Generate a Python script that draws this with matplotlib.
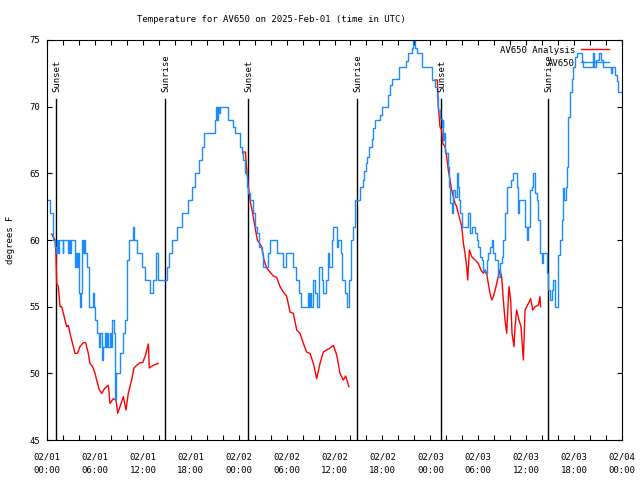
import matplotlib
matplotlib.use('Agg')
import matplotlib.pyplot as plt

# observed temperature (blue), hours after 2025-02-01 00:00 UTC
obs_hours = [0.0, 0.38, 0.79, 1.0, 1.13, 1.25, 1.4, 1.55, 1.95, 2.05, 2.6, 2.7, 2.85, 2.95,
             3.51, 3.6, 3.75, 3.9, 4.05, 4.15, 4.25, 4.4, 4.5, 4.6, 4.75, 4.97, 5.3, 5.8, 5.9,
             6.01, 6.3, 6.5, 6.64, 6.85, 7.0, 7.2, 7.35, 7.5, 7.7, 7.85, 8.0, 8.2, 8.4, 8.51,
             8.6, 9.14, 9.5, 9.77, 10.06, 10.31, 10.73, 10.85, 11.23, 11.85, 12.27, 12.9,
             13.32, 13.7, 13.85, 13.95, 14.98, 15.3, 15.6, 16.3, 16.9, 17.6, 18.1, 18.5, 19.0,
             19.4, 19.7, 21.0, 21.1, 21.25, 21.4, 21.55, 21.7, 22.7, 23.3, 23.55, 24.17, 24.4,
             24.6, 24.8, 25.0, 25.2, 25.42, 25.75, 26.04, 26.25, 26.58, 26.88, 27.09, 27.7,
             27.92, 28.76, 29.59, 29.88, 30.84, 31.2, 31.5, 31.76, 32.72, 32.8, 32.9, 33.0,
             33.35, 33.56, 33.77, 34.1, 34.4, 34.6, 34.94, 35.2, 35.35, 35.65, 35.86, 36.27,
             36.48, 36.8, 37.0, 37.3, 37.6, 37.86, 38.07, 38.36, 38.57, 39.19, 39.53, 39.7,
             39.94, 40.1, 40.36, 40.65, 40.86, 41.07, 41.7, 41.9, 42.74, 42.95, 43.16, 44.1,
             44.95, 45.24, 45.66, 45.87, 46.07, 46.28, 46.9, 48.2, 48.58, 48.79, 49.0, 49.21,
             49.42, 49.55, 49.63, 49.75, 49.84, 50.05, 50.25, 50.4, 50.5, 50.67, 50.88, 51.09,
             51.3, 51.45, 51.55, 51.72, 51.93, 52.76, 52.97, 53.2, 53.6, 53.8, 54.0, 54.2,
             54.43, 54.64, 54.85, 55.05, 55.26, 55.47, 55.68, 55.9, 56.1, 56.5, 56.72, 56.93,
             57.14, 57.35, 57.56, 58.06, 58.4, 58.81, 58.94, 59.06, 59.65, 59.86, 60.07, 60.28,
             60.48, 60.69, 60.9, 61.1, 61.3, 61.52, 61.73, 61.94, 62.15, 62.57, 62.78, 62.98,
             63.19, 63.4, 63.61, 64.03, 64.24, 64.44, 64.65, 64.78, 64.99, 65.15, 65.28, 65.49,
             65.7, 65.9, 66.1, 66.32, 66.95, 67.16, 68.41, 68.5, 68.8, 69.1, 69.35, 69.6, 70.6,
             70.7, 71.12, 71.33, 71.54, 72.0]
obs_temps = [63, 62, 60, 59.5, 59, 60, 59, 60, 59, 60, 59, 60, 59, 60,
             58, 59, 58, 59, 56, 55, 56, 60, 59, 60, 59, 58, 55, 56, 55,
             54, 53, 52, 53, 51, 52, 53, 52, 53, 52, 53, 52, 54, 53, 48,
             50, 51.5, 53, 54, 58.5, 60, 61, 60, 59, 58, 57, 56,
             57, 59, 58.5, 57, 58, 59, 60, 61, 62, 63, 64, 65, 66,
             67, 68, 69, 70, 69, 70, 69.5, 70, 69, 68.5, 68, 67, 66.5,
             66, 65, 64, 63.5, 63, 62, 61, 60.5, 59.5, 59, 58, 59,
             60, 59, 58, 59, 58, 57, 56, 55, 56, 55, 56, 55,
             57, 56, 55, 58, 57, 56, 57, 59, 58, 60, 61, 59.5,
             60, 59, 57, 56, 55, 57, 60, 61, 63, 64, 64.5, 65.2,
             65.75, 66.25, 67, 67.6, 68.4, 69, 69.4, 70, 70.9, 71.6, 72.1, 73,
             73.4, 74, 74.4, 75, 74.4, 74, 73, 72, 71.5, 70.75, 69.75, 69.1,
             68.5, 69, 67.5, 68, 66.5, 66.5, 65.5, 64, 62.75, 62, 63.75, 63.25,
             65, 64, 63, 62, 61, 62, 60.5, 61, 60.5, 60, 59.5, 58.75,
             58.5, 57.75, 57.5, 58.5, 59, 59.5, 60, 59, 58.5, 57.25, 58.25, 58.75,
             60, 62, 64, 64.5, 65, 64, 62, 63, 63, 61, 60, 61,
             63.75, 64, 65, 63.5, 63, 61.5, 59, 58.25, 59, 57.5, 56.25, 55.5,
             56.25, 57, 55, 58.9, 60, 61.5, 63.9, 63, 64, 65.5, 69.25, 71.1,
             72.1, 73, 73.75, 74, 73.4, 73, 74, 73, 73.5, 74, 73.5, 73, 72.5,
             73, 72.4, 71.9, 71.1, 71]

# analysis temperature (red), three nightly runs
ana1_hours = [0.58, 1.0, 1.13, 1.21, 1.42, 1.63, 1.84, 2.05, 2.25, 2.46, 2.67, 2.88, 3.09,
              3.3, 3.5, 3.8, 4.13, 4.55, 4.84, 5.17, 5.38, 5.72, 6.01, 6.22, 6.55, 6.85,
              7.26, 7.68, 7.89, 8.31, 8.64, 8.85, 9.14, 9.56, 9.89, 10.18, 10.6, 10.89,
              11.23, 11.65, 11.98, 12.27, 12.69, 12.81, 13.31, 13.94]
ana1_temps = [60.45, 60, 58.9, 56.75, 56.5, 55, 55, 54.5, 54, 53.5, 53.6, 53, 52.5,
              52, 51.5, 51.5, 52, 52.3, 52.3, 51.5, 50.75, 50.5, 50, 49.5, 48.75, 48.5,
              48.9, 49.1, 47.75, 48.1, 48, 47, 47.5, 48.25, 47.25, 48.5, 49.5, 50.4,
              50.6, 50.8, 50.8, 51.25, 52.2, 50.4, 50.6, 50.75]

ana2_hours = [24.5, 24.85, 24.95, 25.21, 25.42, 25.75, 26.04, 26.34, 26.67, 26.88, 27.17,
              27.5, 27.92, 28.34, 28.76, 29.18, 29.59, 30.0, 30.43, 30.84, 31.27, 31.68,
              32.1, 32.5, 32.93, 33.35, 33.77, 34.19, 34.6, 35.02, 35.44, 35.86, 36.27,
              36.69, 37.1, 37.4, 37.8]
ana2_temps = [66.6, 66.6, 65.7, 64, 63, 62, 61, 60, 59.7, 59.5, 58.5,
              57.9, 57.6, 57.3, 57.2, 56.5, 56.1, 55.8, 54.6, 54.5, 53.25, 53,
              52.25, 51.6, 51.5, 50.75, 49.6, 50.75, 51.6, 51.75, 51.9, 52.1, 51.4,
              50, 49.5, 49.8, 49.0]

ana3_hours = [48.58, 48.88, 49.0, 49.21, 49.42, 49.55, 49.84, 50.05, 50.25, 50.46, 50.67,
              50.88, 51.09, 51.3, 51.5, 51.72, 51.93, 52.14, 52.34, 52.55, 52.68, 52.89,
              53.18, 53.6, 54.0, 54.34, 54.64, 54.85, 55.05, 55.26, 55.47, 55.68, 55.9,
              56.22, 56.5, 56.72, 56.93, 57.14, 57.35, 57.56, 57.68, 57.85, 58.06, 58.23,
              58.48, 58.6, 58.81, 59.1, 59.35, 59.65, 59.86, 60.07, 60.28, 60.57, 60.82,
              61.1, 61.52, 61.73, 61.81]
ana3_temps = [72, 72, 70, 68.5, 68.25, 67.25, 67, 66.25, 65.25, 64.5, 63.75,
              63.25, 62.75, 62.5, 62, 61.5, 61, 59.75, 59, 58, 57, 59.25,
              58.75, 58.5, 58.25, 57.75, 57.5, 57.75, 57.5, 56.75, 56, 55.5, 55.75,
              56.5, 57.25, 57.75, 57.25, 55.5, 54, 53, 54.5, 56.5, 55.5, 53,
              52, 53.5, 54.75, 54, 53.5, 51, 54.75, 55, 55.25, 55.6, 54.75,
              55, 55.1, 55.75, 55]

# sunrise / sunset times (hours)
sun_hours = [1.13, 14.8, 25.2, 38.85, 49.3, 62.78]
sun_labels = ['Sunset', 'Sunrise', 'Sunset', 'Sunrise', 'Sunset', 'Sunrise']

tick_hours = list(range(0, 73, 6))
tick_labels = ['02/01\n00:00', '02/01\n06:00', '02/01\n12:00', '02/01\n18:00',
               '02/02\n00:00', '02/02\n06:00', '02/02\n12:00', '02/02\n18:00',
               '02/03\n00:00', '02/03\n06:00', '02/03\n12:00', '02/03\n18:00',
               '02/04\n00:00']

font = 'DejaVu Sans Mono'
fs = 6.5
blue = '#1a8cff'
red = '#ff0000'

fig = plt.figure(figsize=(6.4, 4.8), dpi=100)
ax = fig.add_axes([47 / 640, 40 / 480, 575 / 640, 400 / 480])

for h, lab in zip(sun_hours, sun_labels):
    ax.plot([h, h], [45, 70.6], color='black', lw=1.0)
    ax.text(h + 0.1, 71.1, lab, rotation=90, ha='center', va='bottom',
            family=font, fontsize=fs)

ax.plot(ana1_hours, ana1_temps, color=red, lw=1.0)
ax.plot(ana2_hours, ana2_temps, color=red, lw=1.0)
ax.plot(ana3_hours, ana3_temps, color=red, lw=1.0)
ax.plot(obs_hours, obs_temps, color=blue, lw=1.0, drawstyle='steps-post')

ax.set_xlim(0, 72)
ax.set_ylim(45, 75)
ax.set_xticks(tick_hours)
ax.set_xticklabels(tick_labels, family=font, fontsize=fs)
ax.set_xticks(range(0, 73, 2), minor=True)
ax.set_yticks(range(45, 76, 5))
ax.set_yticklabels([str(v) for v in range(45, 76, 5)], family=font, fontsize=fs)
for lbl in ax.get_xticklabels():
    lbl.set_linespacing(1.6)
ax.tick_params(which='both', direction='in', top=True, right=True, length=3.5,
               width=0.8, color='black')
ax.tick_params(axis='x', pad=9)
ax.tick_params(axis='y', pad=5)
for s in ax.spines.values():
    s.set_linewidth(0.8)

ax.set_ylabel('degrees F', family=font, fontsize=fs, labelpad=10)

# legend
ax.text(0.918, 0.974, 'AV650 Analysis', transform=ax.transAxes, ha='right', va='center',
        family=font, fontsize=fs)
ax.plot([0.929, 0.977], [0.977, 0.977], transform=ax.transAxes, color=red, lw=1.0)
ax.text(0.918, 0.941, 'AV650', transform=ax.transAxes, ha='right', va='center',
        family=font, fontsize=fs)
ax.plot([0.929, 0.977], [0.944, 0.944], transform=ax.transAxes, color=blue, lw=1.0)

fig.text(271 / 640, 1 - 20 / 480, 'Temperature for AV650 on 2025-Feb-01 (time in UTC)',
         ha='center', va='center', family=font, fontsize=fs)

fig.savefig('out.png', dpi=100)
